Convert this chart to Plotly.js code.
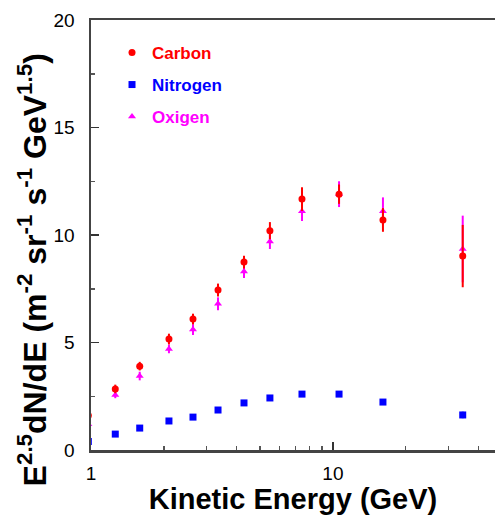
<!DOCTYPE html>
<html>
<head>
<meta charset="utf-8">
<script src="https://cdn.plot.ly/plotly-3.0.1.min.js"></script>
<style>html,body{margin:0;padding:0;background:#fff;}#chart{width:495px;height:515px;}</style>
</head>
<body>
<div id="chart"></div>
<script>
// Kinetic energy bins (GeV)
var energy = [0.975, 1.26, 1.59, 2.10, 2.64, 3.35, 4.29, 5.49, 7.45, 10.6, 16.1, 34.4];
// Carbon
var carbon = [1.6, 2.84, 3.90, 5.16, 6.09, 7.44, 8.74, 10.2, 11.67, 11.9, 10.7, 9.02];
var carbonErr = [0.2, 0.2, 0.2, 0.25, 0.25, 0.3, 0.3, 0.4, 0.55, 0.45, 0.55, 1.45];
// Nitrogen
var nitrogen = [0.4, 0.74, 1.02, 1.35, 1.53, 1.86, 2.19, 2.42, 2.60, 2.60, 2.23, 1.63];
var nitrogenErr = [0.05, 0.05, 0.05, 0.05, 0.05, 0.05, 0.06, 0.06, 0.07, 0.08, 0.08, 0.15];
// Oxygen
var oxygen = [1.2, 2.56, 3.44, 4.70, 5.60, 6.80, 8.30, 9.70, 11.1, 11.9, 11.1, 9.35];
var oxygenErr = [0.15, 0.15, 0.2, 0.2, 0.25, 0.3, 0.3, 0.35, 0.45, 0.6, 0.65, 1.55];

var xTickVals = [1, 10];
var xTickText = ['1', '10'];
var xMinorVals = [2, 3, 4, 5, 6, 7, 8, 9, 20, 30, 40];
var yTickVals = [0, 5, 10, 15, 20];

var FONT = 'Liberation Sans, Arial, Helvetica, sans-serif';

function trace(name, y, err, color, symbol, size, legendId) {
  return {
    type: 'scatter', mode: 'markers', x: energy, y: y,
    name: '<b><span style="color:' + color + '">' + name + '</span></b>',
    legend: legendId,
    marker: {color: color, symbol: symbol, size: size},
    error_y: {type: 'data', array: err, visible: true, color: color, thickness: 2, width: 0}
  };
}

var data = [
  trace('Oxigen', oxygen, oxygenErr, '#ff00ff', 'triangle-up', 7, 'legend3'),
  trace('Nitrogen', nitrogen, nitrogenErr, '#0000ff', 'square', 7, 'legend2'),
  trace('Carbon', carbon, carbonErr, '#ff0000', 'circle', 7, 'legend')
];

function legendAt(py) {
  return {x: 0.052, xanchor: 'left', y: (450 - py) / 430, yanchor: 'middle',
    bgcolor: 'rgba(0,0,0,0)', font: {family: FONT, size: 17}, itemclick: false};
}

var layout = {
  width: 495, height: 515,
  margin: {l: 91, r: 0, t: 20, b: 65},
  paper_bgcolor: '#fff', plot_bgcolor: '#fff',
  showlegend: true,
  legend: legendAt(53),
  legend2: legendAt(85),
  legend3: legendAt(117),
  xaxis: {
    type: 'log', range: [0, 1.67],
    tickmode: 'array', tickvals: xTickVals, ticktext: xTickText,
    ticks: 'inside', ticklen: 8, tickwidth: 1.5, tickcolor: '#333',
    minor: {tickmode: 'array', tickvals: xMinorVals, ticks: 'inside', ticklen: 4, tickwidth: 1.5, tickcolor: '#555', showgrid: false},
    showline: true, linecolor: '#444', linewidth: 2.5, mirror: true,
    showgrid: false, zeroline: false,
    tickfont: {family: FONT, size: 19, color: '#000'},
    ticklabelstandoff: 5,
    title: {text: '<b>Kinetic Energy (GeV)</b>', font: {family: FONT, size: 29, color: '#000'}, standoff: 14}
  },
  yaxis: {
    range: [0, 20],
    tickmode: 'array', tickvals: yTickVals,
    ticks: 'inside', ticklen: 8, tickwidth: 1.5, tickcolor: '#333',
    minor: {dtick: 2.5, ticks: 'inside', ticklen: 4, tickwidth: 1.5, tickcolor: '#555', showgrid: false},
    showline: true, linecolor: '#444', linewidth: 2.5, mirror: false,
    showgrid: false, zeroline: false,
    tickfont: {family: FONT, size: 19, color: '#000'},
    ticklabelstandoff: 10
  },
  annotations: [{
    xref: 'paper', yref: 'paper', x: -0.145, y: (450 - 270) / 430,
    xanchor: 'center', yanchor: 'middle', textangle: -90, showarrow: false,
    text: '<b>E<sup>2.5</sup>dN/dE (m<sup>-2</sup> sr<sup>-1</sup> s<sup>-1</sup> GeV<sup>1.5</sup>)</b>',
    font: {family: FONT, size: 32, color: '#000'}
  }]
};

Plotly.newPlot('chart', data, layout, {displayModeBar: false, staticPlot: true});
</script>
</body>
</html>
